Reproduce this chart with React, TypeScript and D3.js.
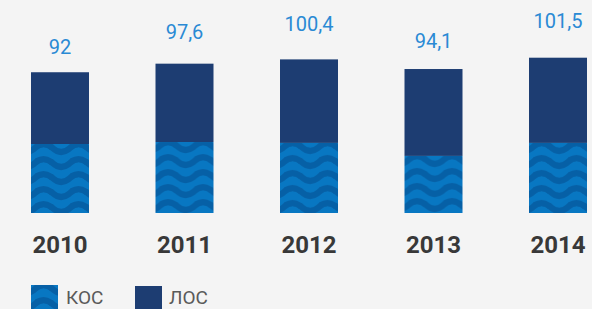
import React from 'react';
import * as d3 from 'd3';

// values
const years = ['2010', '2011', '2012', '2013', '2014'];
const totals = [92, 97.6, 100.4, 94.1, 101.5];
const kos = [45.1, 46.4, 45.8, 37.3, 45.8];
const totalLabels = ['92', '97,6', '100,4', '94,1', '101,5'];
const legendLabels = ['КОС', 'ЛОС'];

const W = 592;
const H = 309;

const NAVY = '#1d3d72';
const BLUE = '#0877c2';
const WAVE = '#0660a6';

const rows = years.map((year, i) => ({
  year,
  kos: kos[i],
  los: totals[i] - kos[i],
  total: totals[i],
  label: totalLabels[i],
}));

const x = d3.scalePoint<string>().domain(years).range([60, 558]);
const y = d3.scaleLinear().domain([0, 100]).range([213, 60]);
// labels above the bars sit on their own compressed scale in the original
const labelY = d3
  .scaleLinear()
  .domain(d3.extent(totals) as [number, number])
  .range([54, 28]);

const barW = 58;
const stack = d3.stack<any>().keys(['kos', 'los']);
const series = stack(rows);

const wavePath = 'M-1 4 Q8.75 -4 17.5 4 T35 4 T52.5 4';

function WavePattern({ id, px, py }: { id: string; px: number; py: number }) {
  return (
    <pattern id={id} patternUnits="userSpaceOnUse" x={px} y={py} width={35} height={15}>
      <rect width={35} height={15} fill={BLUE} />
      <path d={wavePath} fill="none" stroke={WAVE} strokeWidth={6} />
      <path d={wavePath} transform="translate(0,15)" fill="none" stroke={WAVE} strokeWidth={6} />
      <path d={wavePath} transform="translate(-35,0)" fill="none" stroke={WAVE} strokeWidth={6} />
    </pattern>
  );
}

export default function App() {
  const [kosS, losS] = series;
  return (
    <svg
      width={W}
      height={H}
      style={{ position: 'absolute', left: 0, top: 0, display: 'block' }}
      fontFamily="Roboto, sans-serif"
    >
      <defs>
        {kosS.map((d, i) => (
          <WavePattern
            key={i}
            id={`wave-${i}`}
            px={(x(rows[i].year) as number) - barW / 2 + 4}
            py={y(d[1])}
          />
        ))}
        <WavePattern id="wave-legend" px={35} py={285} />
      </defs>
      <rect width={W} height={H} fill="#f4f4f4" />

      {losS.map((d, i) => (
        <rect
          key={'l' + i}
          x={(x(rows[i].year) as number) - barW / 2}
          y={y(d[1])}
          width={barW}
          height={y(d[0]) - y(d[1])}
          fill={NAVY}
        />
      ))}
      {kosS.map((d, i) => (
        <rect
          key={'k' + i}
          x={(x(rows[i].year) as number) - barW / 2}
          y={y(d[1])}
          width={barW}
          height={y(d[0]) - y(d[1])}
          fill={`url(#wave-${i})`}
        />
      ))}

      {rows.map((r) => (
        <text
          key={'v' + r.year}
          x={x(r.year)}
          y={labelY(r.total)}
          textAnchor="middle"
          fontSize={20}
          fill="#2a8ad4"
        >
          {r.label}
        </text>
      ))}

      {rows.map((r) => (
        <text
          key={'y' + r.year}
          x={x(r.year)}
          y={253}
          textAnchor="middle"
          fontSize={24}
          fontWeight={700}
          fill="#383838"
        >
          {r.year}
        </text>
      ))}

      {/* legend */}
      <rect x={31} y={285} width={27} height={27} fill="url(#wave-legend)" />
      <text x={66} y={304} fontSize={19} fill="#5a5a5a">
        {legendLabels[0]}
      </text>
      <rect x={135} y={286} width={27} height={27} fill={NAVY} />
      <text x={169} y={304} fontSize={19} fill="#5a5a5a">
        {legendLabels[1]}
      </text>
    </svg>
  );
}
